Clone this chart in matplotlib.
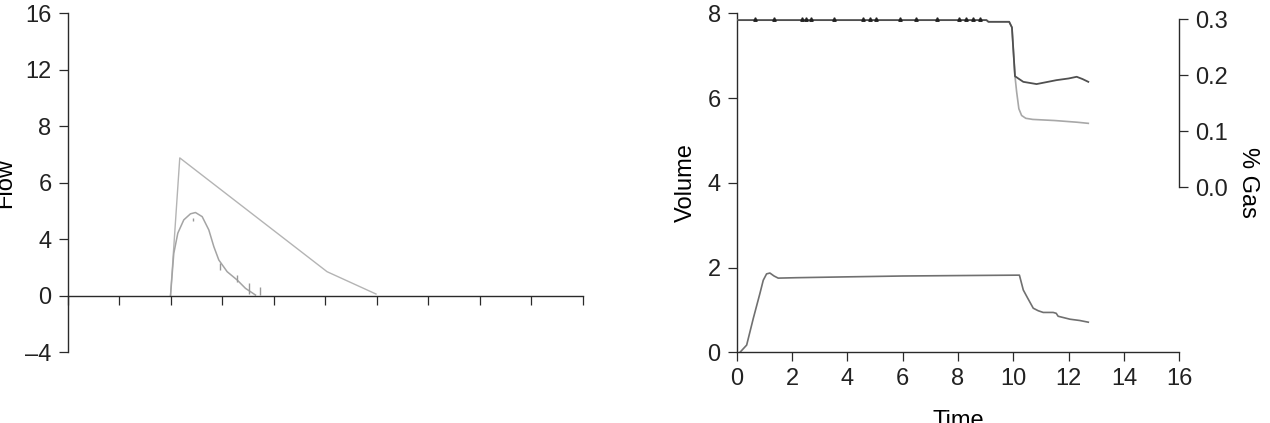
import matplotlib
matplotlib.use("Agg")
import matplotlib.pyplot as plt

plt.rcParams['font.family'] = ['Liberation Sans', 'DejaVu Sans']
plt.rcParams['font.size'] = 17

# ---- left panel: Flow (y plotted on evenly spaced tick positions) ----
flow_ticks = [-4, 0, 4, 8, 12, 16, 20]
flow_labels = ['\u20134', '0', '4', '6', '8', '12', '16']

tri_x = [2.0, 2.18, 5.04, 5.99]
tri_y = [0.0, 9.76, 1.70, 0.12]

inner_x = [2.0, 2.064, 2.142, 2.258, 2.388, 2.485, 2.615, 2.744, 2.841,
           2.938, 3.10, 3.295, 3.456, 3.65]
inner_y = [0.0, 3.0, 4.43, 5.37, 5.80, 5.89, 5.60, 4.66, 3.48,
           2.53, 1.70, 1.11, 0.52, 0.05]

mark_x = [2.44, 2.957, 3.295, 3.52, 3.734]
mark_lo = [5.26, 1.82, 0.97, 0.12, 0.05]
mark_hi = [5.50, 2.32, 1.47, 0.90, 0.64]

# ---- right panel: Volume and % Gas vs Time ----
vol_t = [0.12, 0.36, 0.6, 0.84, 0.96, 1.08, 1.2, 1.35, 1.5, 2.17, 4.0, 6.0,
         8.0, 10.12, 10.22, 10.36, 10.5, 10.72, 10.9, 11.08, 11.44, 11.55,
         11.62, 12.05, 12.4, 12.71]
vol = [0.0, 0.17, 0.8, 1.39, 1.70, 1.85, 1.87, 1.80, 1.75, 1.76, 1.78, 1.80,
       1.81, 1.82, 1.82, 1.47, 1.30, 1.04, 0.98, 0.94, 0.94, 0.92,
       0.85, 0.78, 0.75, 0.71]

gas_hi_t = [0.0, 9.03, 9.1, 9.85, 9.95, 10.0, 10.06, 10.36, 10.84, 11.56,
            12.0, 12.29, 12.5, 12.71]
gas_hi = [0.298, 0.298, 0.295, 0.295, 0.285, 0.245, 0.198, 0.188, 0.184,
          0.191, 0.194, 0.197, 0.193, 0.188]

gas_lo_t = [0.0, 9.03, 9.1, 9.85, 9.95, 10.0, 10.06, 10.12, 10.2, 10.3,
            10.45, 10.7, 11.5, 12.3, 12.71]
gas_lo = [0.298, 0.298, 0.295, 0.295, 0.285, 0.245, 0.198, 0.17, 0.14, 0.128,
          0.123, 0.121, 0.119, 0.116, 0.114]

spike_t = [0.66, 1.36, 2.35, 2.5, 2.7, 3.5, 4.57, 4.82, 5.03, 5.9, 6.48,
           7.23, 8.05, 8.3, 8.55, 8.8]
spike_gas = [0.300] * len(spike_t)

time_ticks = [0, 2, 4, 6, 8, 10, 12, 14, 16]
gas_ticks = [0.0, 0.1, 0.2, 0.3]

axis_col = '#2a2a2a'

fig = plt.figure(figsize=(12.7, 4.23), dpi=100)

ax1 = fig.add_axes([67.5 / 1270, 0.1674, 515 / 1270, 0.8012])
ax1.plot(tri_x, tri_y, color='#b4b4b4', lw=1.0)
ax1.plot(inner_x, inner_y, color='#a4a4a4', lw=1.1)
ax1.vlines(mark_x, mark_lo, mark_hi, color='#999999', lw=1.0)
ax1.set_xlim(0, 10)
ax1.set_ylim(-4, 20)
ax1.set_xticks(range(11))
ax1.set_xticklabels([])
ax1.set_yticks(flow_ticks)
ax1.set_yticklabels(flow_labels)
ax1.spines['bottom'].set_position(('data', 0))
for s in ['top', 'right']:
    ax1.spines[s].set_visible(False)
ax1.set_ylabel('Flow')
ax1.yaxis.set_label_coords(-0.1, 0.5)

ax2 = fig.add_axes([736.7 / 1270, 0.1672, 442.6 / 1270, 0.8014])
ax2.plot(vol_t, vol, color='#707070', lw=1.2)
ax2.set_xlim(0, 16)
ax2.set_ylim(0, 8)
ax2.set_xticks(time_ticks)
ax2.set_yticks([0, 2, 4, 6, 8])
for s in ['top', 'right']:
    ax2.spines[s].set_visible(False)
ax2.set_xlabel('Time', labelpad=14)
ax2.set_ylabel('Volume')
ax2.yaxis.set_label_coords(-0.091, 0.5)

ax3 = ax2.twinx()
ax3.plot(gas_lo_t, gas_lo, color='#a8a8a8', lw=1.2)
ax3.plot(gas_hi_t, gas_hi, color='#505050', lw=1.3)
ax3.plot(spike_t, spike_gas, linestyle='none', marker='^', ms=2.5,
         color='#222222')
ax3.set_ylim(-0.2941, 0.3102)
ax3.set_yticks(gas_ticks)
ax3.set_yticklabels(['0.0', '0.1', '0.2', '0.3'])
for s in ['top', 'left', 'bottom']:
    ax3.spines[s].set_visible(False)
ax3.spines['right'].set_bounds(0, 0.3)
ax3.set_ylabel('% Gas', rotation=270, va='bottom')
ax3.yaxis.set_label_coords(1.13, 0.5)

for ax in [ax1, ax2, ax3]:
    for s in ax.spines.values():
        s.set_color(axis_col)
        s.set_linewidth(1.0)
    ax.tick_params(direction='out', length=6.5, width=0.9, pad=5,
                   color=axis_col, labelcolor='#222222', labelsize=17)

fig.savefig('out.png', dpi=100)
